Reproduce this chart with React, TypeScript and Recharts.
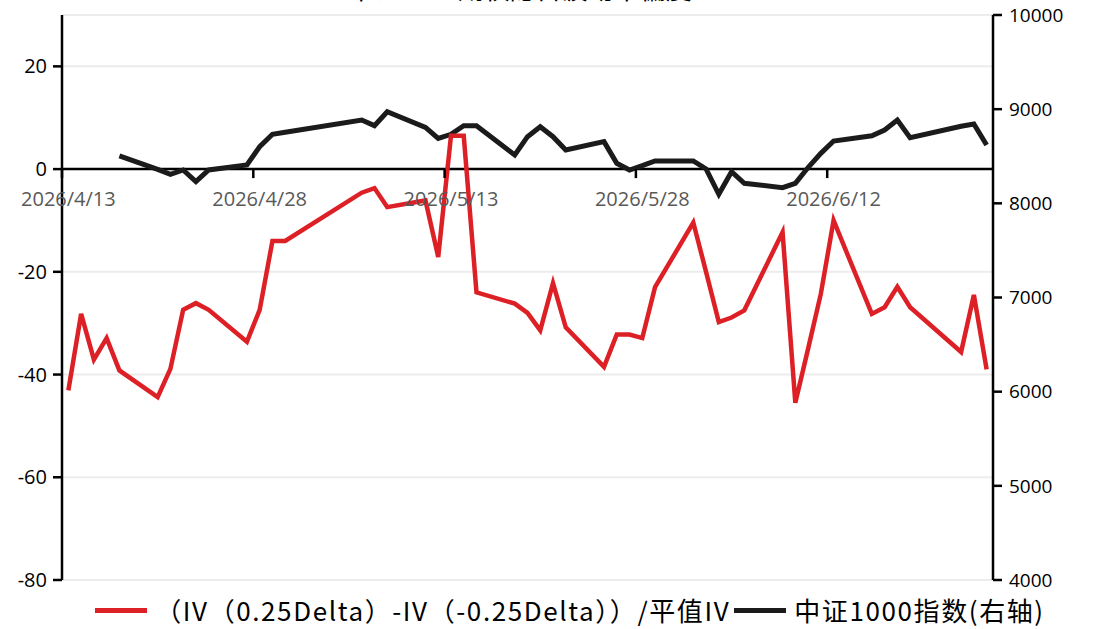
import React from "react";
import {
  LineChart,
  Line,
  XAxis,
  YAxis,
  CartesianGrid,
  ReferenceLine,
  Legend,
} from "recharts";

// trading days shown on the chart
const dates = [
  "2026/4/13", "2026/4/14", "2026/4/15", "2026/4/16", "2026/4/17",
  "2026/4/20", "2026/4/21", "2026/4/22", "2026/4/23", "2026/4/24",
  "2026/4/27", "2026/4/28", "2026/4/29", "2026/4/30",
  "2026/5/6", "2026/5/7", "2026/5/8",
  "2026/5/11", "2026/5/12", "2026/5/13", "2026/5/14", "2026/5/15",
  "2026/5/18", "2026/5/19", "2026/5/20", "2026/5/21", "2026/5/22",
  "2026/5/25", "2026/5/26", "2026/5/27", "2026/5/28", "2026/5/29",
  "2026/6/1", "2026/6/2", "2026/6/3", "2026/6/4", "2026/6/5",
  "2026/6/8", "2026/6/9", "2026/6/10", "2026/6/11", "2026/6/12",
  "2026/6/15", "2026/6/16", "2026/6/17", "2026/6/18",
  "2026/6/22", "2026/6/23", "2026/6/24",
];

// (IV(0.25Delta) - IV(-0.25Delta)) / ATM IV, left axis
const skew = [
  -43.1, -28.2, -37.1, -32.9, -39.2,
  -44.4, -38.9, -27.4, -26.1, -27.4,
  -33.6, -27.4, -14.0, -14.0,
  -4.6, -3.7, -7.4,
  -6.1, -17.1, 6.5, 6.5, -24.0,
  -26.2, -28.0, -31.4, -22.2, -30.8,
  -38.5, -32.2, -32.2, -32.9, -23.0,
  -10.4, -20.0, -29.8, -28.9, -27.5,
  -12.3, -45.5, -35.0, -24.3, -10.0,
  -28.2, -26.9, -22.9, -26.9,
  -35.6, -24.5, -39.0,
];

// CSI 1000 index, right axis
const csi1000 = [
  null, null, null, null, 8503,
  8360, 8308, 8354, 8230, 8354,
  8407, 8602, 8733, 8754,
  8885, 8825, 8973,
  8807, 8690, 8733, 8825, 8825,
  8513, 8708, 8814, 8708, 8566,
  8655, 8425, 8354, 8400, 8450,
  8450, 8365, 8096, 8336, 8213,
  8166, 8213, 8380, 8531, 8662,
  8718, 8779, 8885, 8697,
  8818, 8842, 8620,
];

const xTickDays = [0, 15, 30, 45, 60];
const leftTicks = [-80, -60, -40, -20, 0, 20];
const rightTicks = [4000, 5000, 6000, 7000, 8000, 9000, 10000];

const START = new Date(2026, 3, 13).getTime();
const DAY = 86400000;
const dayOf = (d: string) => {
  const [y, m, dd] = d.split("/").map(Number);
  return Math.round((new Date(y, m - 1, dd).getTime() - START) / DAY);
};
const labelOf = (day: number) => {
  const d = new Date(START + day * DAY);
  return `${d.getFullYear()}/${d.getMonth() + 1}/${d.getDate()}`;
};

const data = dates.map((d, i) => ({
  x: dayOf(d) + 0.5,
  skew: skew[i],
  index: csi1000[i],
}));

const W = 1094;
const H = 629;
const TOP = 15;
const BOTTOM = 580;
const LEFT_W = 62;
const RIGHT_W = 101;
const X_SPAN = 73;
const L_MIN = -80;
const L_MAX = 30;
const ZERO_Y = TOP + ((L_MAX - 0) / (L_MAX - L_MIN)) * (BOTTOM - TOP);
const HALF_DAY = (W - LEFT_W - RIGHT_W) / X_SPAN / 2;

const FONT = "'Open Sans', 'Noto Sans CJK SC', sans-serif";

const XTick = (props: any) => {
  const { x, payload } = props;
  return (
    <g>
      <line x1={x} x2={x} y1={ZERO_Y} y2={ZERO_Y + 9} stroke="#000" strokeWidth={2.5} />
      <text
        x={x + HALF_DAY}
        y={ZERO_Y + 37}
        textAnchor="middle"
        fill="#595959"
        fontSize={20}
        fontFamily={FONT}
      >
        {labelOf(payload.value)}
      </text>
    </g>
  );
};

const series = [
  { name: "（IV（0.25Delta）-IV（-0.25Delta））/平值IV", color: "#dd1f26" },
  { name: "中证1000指数(右轴)", color: "#1b1b1b" },
];

const LegendBox = () => (
  <div
    style={{
      display: "flex",
      justifyContent: "center",
      alignItems: "center",
      height: 34,
      paddingLeft: 50,
      fontFamily: "'Noto Sans CJK SC', sans-serif",
      fontSize: 26,
      letterSpacing: 1.6,
      color: "#000",
      lineHeight: "34px",
      whiteSpace: "nowrap",
    }}
  >
    {series.map((s) => (
      <div key={s.name} style={{ display: "flex", alignItems: "center", marginRight: 4 }}>
        <div style={{ width: 52, height: 5, background: s.color, marginRight: 8 }} />
        <span>{s.name}</span>
      </div>
    ))}
  </div>
);

export default function App() {
  return (
    <div style={{ position: "absolute", left: 0, top: 0, width: W, height: H, overflow: "hidden", background: "#fff" }}>
      <div
        style={{
          position: "absolute",
          top: -27,
          left: 330,
          width: 380,
          textAlign: "center",
          fontFamily: "'Noto Sans CJK SC', sans-serif",
          fontSize: 26,
          lineHeight: "30px",
          color: "#000",
        }}
      >
        中证1000期权隐含波动率偏度
      </div>
      <LineChart width={W} height={H} data={data} margin={{ top: TOP, right: 0, bottom: H - BOTTOM - 1, left: 0 }}>
        <CartesianGrid yAxisId="left" vertical={false} stroke="#ececec" strokeWidth={2} />
        <XAxis
          dataKey="x"
          type="number"
          domain={[0, X_SPAN]}
          ticks={xTickDays}
          height={1}
          axisLine={false}
          tickLine={false}
          tick={<XTick />}
          interval={0}
        />
        <YAxis
          yAxisId="left"
          width={LEFT_W}
          domain={[L_MIN, L_MAX]}
          ticks={leftTicks}
          interval={0}
          axisLine={{ stroke: "#000", strokeWidth: 2.5 }}
          tickLine={{ stroke: "#000", strokeWidth: 2.5 }}
          tickSize={9}
          tick={{ fill: "#000", fontSize: 20, fontFamily: FONT, dx: -4 }}
        />
        <YAxis
          yAxisId="right"
          orientation="right"
          width={RIGHT_W}
          domain={[4000, 10000]}
          ticks={rightTicks}
          interval={0}
          axisLine={{ stroke: "#000", strokeWidth: 2.5 }}
          tickLine={{ stroke: "#000", strokeWidth: 2.5 }}
          tickSize={9}
          tick={{ fill: "#000", fontSize: 19, fontFamily: FONT, dx: 5 }}
        />
        <ReferenceLine yAxisId="left" y={0} stroke="#000" strokeWidth={2.5} />
        <Line
          yAxisId="right"
          type="linear"
          dataKey="index"
          name={series[1].name}
          stroke={series[1].color}
          strokeWidth={5}
          dot={false}
          isAnimationActive={false}
        />
        <Line
          yAxisId="left"
          type="linear"
          dataKey="skew"
          name={series[0].name}
          stroke={series[0].color}
          strokeWidth={4.5}
          dot={false}
          isAnimationActive={false}
        />
        <Legend
          layout="horizontal"
          verticalAlign="middle"
          align="center"
          content={<LegendBox />}
          wrapperStyle={{ position: "absolute", top: 593, left: 0, width: W, height: 34 }}
        />
      </LineChart>
    </div>
  );
}
